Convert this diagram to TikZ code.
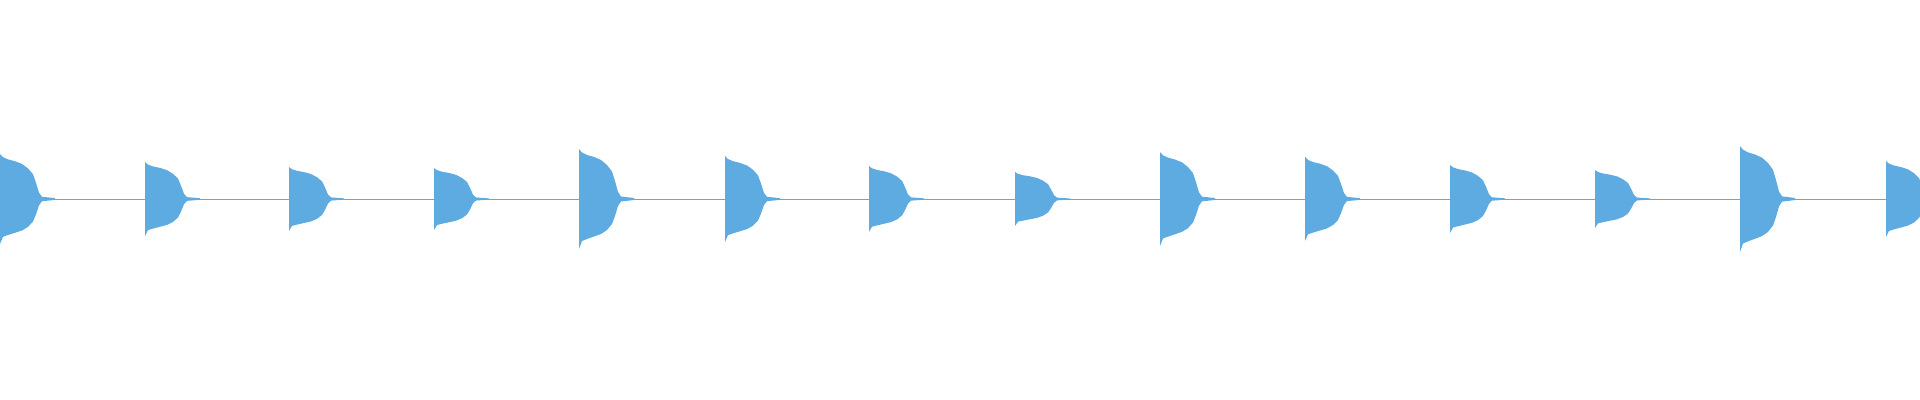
\documentclass[tikz,border=0pt]{standalone}
\usepackage{xcolor}
\definecolor{wave}{RGB}{94,171,226}
\tikzset{
    baseline/.style = {draw=wave, line width=0.007cm},
    burst/.style = {fill=wave, draw=none}
}
\newcommand{\burstat}[2]{%
  \fill[burst] (#1,199) -- (#1,199-#2) -- (#1+3,199-0.93*#2) -- (#1+8,199-0.88*#2)
    -- (#1+15,199-0.84*#2) -- (#1+22,199-0.78*#2) -- (#1+28,199-0.68*#2)
    -- (#1+33,199-0.55*#2) -- (#1+36,199-0.36*#2) -- (#1+39,199-0.14*#2)
    -- (#1+42,199-0.05*#2) -- (#1+55,199-0.02*#2) -- (#1+55,199+0.02*#2)
    -- (#1+42,199+0.05*#2) -- (#1+39,199+0.14*#2) -- (#1+36,199+0.34*#2)
    -- (#1+33,199+0.5*#2) -- (#1+28,199+0.62*#2) -- (#1+22,199+0.7*#2)
    -- (#1+15,199+0.75*#2) -- (#1+8,199+0.8*#2) -- (#1+3,199+0.84*#2)
    -- (#1,199+#2) -- cycle;}
\begin{document}
\begin{tikzpicture}[x=0.01cm, y=-0.01cm]
    \useasboundingbox (0,0) rectangle (1920,400);
    % centre line of the signal
    \draw[baseline] (0,199) -- (1920,199);
    % one burst per beat
    \foreach \s/\a in {0/45, 145/37, 289/32, 434/31, 579/50, 725/43, 869/33,
        1015/27, 1160/47, 1305/42, 1450/34, 1595/29, 1740/53, 1886/38}
        {\burstat{\s}{\a}}
\end{tikzpicture}
\end{document}
